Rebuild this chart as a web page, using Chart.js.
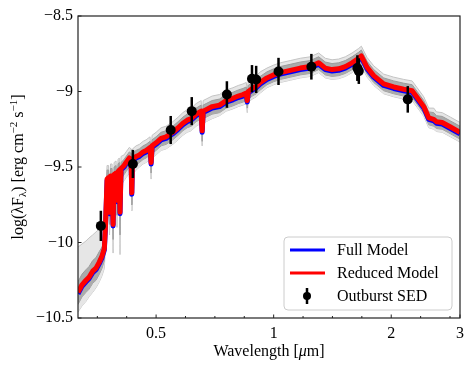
<!DOCTYPE html>
<html>
<head>
<meta charset="utf-8">
<script src="https://cdn.jsdelivr.net/npm/chart.js@4"></script>
<style>
  body { margin: 0; background: #fff; }
  canvas { display: block; }
</style>
</head>
<body>
<canvas id="sed-chart" width="474" height="370"></canvas>
<script>
// Model spectrum, wavelength in micron, log(lambda F_lambda)
const modelWave = [
  0.3155, 0.323, 0.3307, 0.3366, 0.344, 0.3508, 0.3577, 0.3635, 0.3685, 0.3711,
  0.3745, 0.3778, 0.380, 0.3822, 0.3857, 0.388, 0.3903, 0.3949, 0.3972, 0.3995,
  0.4025, 0.4042, 0.4066, 0.414, 0.4189, 0.427, 0.4314, 0.4332, 0.4352, 0.4443,
  0.4531, 0.4631, 0.4714, 0.4826, 0.4855, 0.4883, 0.5, 0.515, 0.5304, 0.5518,
  0.5693, 0.5855, 0.6005, 0.6148, 0.6332, 0.6522, 0.656, 0.6599, 0.6717, 0.6959,
  0.7267, 0.756, 0.7865, 0.8116, 0.8344, 0.8508, 0.8558, 0.861, 0.8816, 0.9025,
  0.924, 0.9612, 1.0, 1.0398, 1.1032, 1.1699, 1.2415, 1.3038, 1.3561, 1.4109,
  1.4668, 1.526, 1.5876, 1.6506, 1.6771, 1.7348, 1.8037, 1.9133, 2.0299, 2.1531,
  2.2623, 2.3305, 2.423, 2.4955, 2.5702, 2.6114, 2.7012, 2.8365, 3.0
];
const reducedModel = [
  -10.33, -10.28, -10.25, -10.23, -10.19, -10.17, -10.13, -10.09, -10.04, -9.88,
  -9.58, -9.57, -9.80, -9.56, -9.56, -9.88, -9.55, -9.54, -9.72, -9.53,
  -9.52, -9.80, -9.51, -9.49, -9.47, -9.44, -9.45, -9.67, -9.45, -9.43,
  -9.42, -9.40, -9.39, -9.37, -9.47, -9.36, -9.34, -9.31, -9.30, -9.27,
  -9.24, -9.21, -9.19, -9.18, -9.15, -9.13, -9.26, -9.13, -9.12, -9.10,
  -9.09, -9.06, -9.045, -9.03, -9.02, -9.01, -9.06, -9.00, -8.98, -8.965,
  -8.94, -8.91, -8.89, -8.875, -8.86, -8.845, -8.835, -8.81, -8.845, -8.855,
  -8.85, -8.835, -8.81, -8.78, -8.765, -8.84, -8.895, -8.95, -8.97, -8.985,
  -8.995, -9.04, -9.10, -9.175, -9.185, -9.20, -9.205, -9.235, -9.27
];
const fullModel = [
  -10.34, -10.29, -10.26, -10.24, -10.20, -10.18, -10.14, -10.10, -10.05, -9.89,
  -9.59, -9.58, -9.81, -9.57, -9.57, -9.89, -9.56, -9.55, -9.73, -9.54,
  -9.53, -9.81, -9.52, -9.50, -9.48, -9.45, -9.46, -9.68, -9.46, -9.44,
  -9.43, -9.41, -9.40, -9.38, -9.48, -9.37, -9.35, -9.32, -9.31, -9.28,
  -9.25, -9.22, -9.20, -9.19, -9.16, -9.14, -9.27, -9.14, -9.13, -9.11,
  -9.10, -9.07, -9.055, -9.04, -9.03, -9.02, -9.07, -9.01, -8.99, -8.975,
  -8.95, -8.92, -8.90, -8.885, -8.87, -8.855, -8.845, -8.82, -8.855, -8.865,
  -8.86, -8.845, -8.82, -8.79, -8.775, -8.85, -8.905, -8.96, -8.98, -8.995,
  -9.005, -9.05, -9.11, -9.185, -9.195, -9.21, -9.215, -9.245, -9.28
];

// Uncertainty envelopes (outer = light grey, inner = dark grey)
const bandOuterHi = [
  -10.03, -10.01, -9.99, -9.97, -9.95, -9.93, -9.91, -9.89, -9.87, -9.70,
  -9.49, -9.49, -9.72, -9.48, -9.48, -9.80, -9.47, -9.46, -9.65, -9.45,
  -9.44, -9.74, -9.43, -9.42, -9.40, -9.37, -9.38, -9.60, -9.38, -9.36,
  -9.35, -9.33, -9.32, -9.30, -9.40, -9.29, -9.27, -9.24, -9.23, -9.20,
  -9.17, -9.14, -9.12, -9.11, -9.08, -9.06, -9.19, -9.06, -9.05, -9.03,
  -9.02, -8.99, -8.975, -8.96, -8.95, -8.94, -8.99, -8.93, -8.91, -8.895,
  -8.87, -8.845, -8.825, -8.81, -8.795, -8.78, -8.77, -8.745, -8.78, -8.79,
  -8.785, -8.77, -8.745, -8.715, -8.70, -8.775, -8.83, -8.885, -8.905, -8.92,
  -8.93, -8.975, -9.035, -9.11, -9.11, -9.135, -9.14, -9.17, -9.205
];
const bandInnerHi = [
  -10.26, -10.21, -10.18, -10.16, -10.12, -10.10, -10.06, -10.03, -9.98, -9.80,
  -9.52, -9.52, -9.75, -9.51, -9.51, -9.83, -9.50, -9.49, -9.68, -9.48,
  -9.47, -9.77, -9.47, -9.45, -9.43, -9.40, -9.41, -9.63, -9.41, -9.39,
  -9.38, -9.36, -9.35, -9.33, -9.43, -9.32, -9.30, -9.27, -9.26, -9.23,
  -9.20, -9.17, -9.15, -9.14, -9.11, -9.09, -9.22, -9.09, -9.08, -9.06,
  -9.05, -9.02, -9.005, -8.99, -8.98, -8.97, -9.02, -8.96, -8.94, -8.925,
  -8.90, -8.87, -8.85, -8.835, -8.82, -8.805, -8.795, -8.77, -8.805, -8.815,
  -8.81, -8.795, -8.77, -8.74, -8.725, -8.80, -8.855, -8.91, -8.93, -8.945,
  -8.955, -9.00, -9.06, -9.135, -9.14, -9.16, -9.165, -9.195, -9.23
];
const bandInnerLo = [
  -10.41, -10.36, -10.33, -10.31, -10.27, -10.25, -10.21, -10.17, -10.12, -9.96,
  -9.66, -9.64, -9.88, -9.63, -9.63, -9.98, -9.62, -9.61, -9.82, -9.60,
  -9.59, -9.95, -9.58, -9.55, -9.53, -9.50, -9.51, -9.75, -9.51, -9.49,
  -9.47, -9.45, -9.44, -9.42, -9.54, -9.41, -9.39, -9.36, -9.35, -9.32,
  -9.29, -9.26, -9.24, -9.23, -9.20, -9.18, -9.33, -9.18, -9.17, -9.15,
  -9.14, -9.11, -9.095, -9.08, -9.07, -9.06, -9.11, -9.05, -9.03, -9.015,
  -8.99, -8.955, -8.935, -8.92, -8.905, -8.89, -8.88, -8.855, -8.89, -8.90,
  -8.895, -8.88, -8.855, -8.825, -8.81, -8.885, -8.94, -8.995, -9.015, -9.03,
  -9.04, -9.085, -9.145, -9.22, -9.23, -9.245, -9.25, -9.28, -9.315
];
const bandOuterLo = [
  -10.46, -10.42, -10.39, -10.36, -10.33, -10.30, -10.26, -10.22, -10.17, -10.02,
  -9.72, -9.70, -9.95, -9.68, -9.68, -10.07, -9.67, -9.66, -9.90, -9.65,
  -9.64, -10.08, -9.62, -9.59, -9.57, -9.54, -9.55, -9.79, -9.55, -9.52,
  -9.50, -9.48, -9.47, -9.45, -9.58, -9.44, -9.42, -9.39, -9.38, -9.35,
  -9.32, -9.29, -9.27, -9.26, -9.23, -9.21, -9.36, -9.21, -9.20, -9.18,
  -9.16, -9.13, -9.115, -9.10, -9.09, -9.08, -9.14, -9.07, -9.05, -9.035,
  -9.01, -8.975, -8.955, -8.94, -8.925, -8.91, -8.90, -8.875, -8.91, -8.92,
  -8.915, -8.90, -8.875, -8.845, -8.83, -8.905, -8.96, -9.015, -9.035, -9.05,
  -9.06, -9.105, -9.165, -9.24, -9.25, -9.265, -9.27, -9.30, -9.335
];

// Outburst photometry
const sedWave = [0.361, 0.436, 0.545, 0.617, 0.759, 0.880, 0.902, 1.029, 1.249, 1.638, 1.652, 2.205];
const sedFlux = [-9.89, -9.48, -9.255, -9.13, -9.02, -8.915, -8.92, -8.867, -8.836, -8.845, -8.865, -9.052];
const sedErr = [0.10, 0.093, 0.093, 0.093, 0.088, 0.09, 0.09, 0.09, 0.085, 0.085, 0.085, 0.088];

// Axis ticks
const xMajorTicks = [0.5, 1, 2, 3];
const xMinorTicks = [0.3536, 0.4204, 0.5946, 0.7071, 0.8409, 1.1892, 1.4142, 1.6818, 2.3784, 2.8284];
const yTicks = [-10.5, -10, -9.5, -9, -8.5];
const xMin = 0.3155;
const xMax = 3.0;

const FONT = "'Liberation Serif', 'Times New Roman', serif";

function xy(xs, ys) {
  return xs.map((v, i) => ({ x: v, y: ys[i] }));
}

function fmt(v) {
  const r = Math.round(v * 10) / 10;
  return String(r).replace('-', '\u2212');
}

// Error bars on the photometry
const errorBars = {
  id: 'errorBars',
  afterDatasetsDraw(chart) {
    const { ctx, scales: { x, y } } = chart;
    ctx.save();
    ctx.strokeStyle = '#000';
    ctx.lineWidth = 2.5;
    sedWave.forEach((w, i) => {
      const px = x.getPixelForValue(w);
      ctx.beginPath();
      ctx.moveTo(px, y.getPixelForValue(sedFlux[i] - sedErr[i]));
      ctx.lineTo(px, y.getPixelForValue(sedFlux[i] + sedErr[i]));
      ctx.stroke();
    });
    ctx.restore();
  }
};

// Frame, inward ticks, axis titles and the legend box
const decorations = {
  id: 'decorations',
  afterDraw(chart) {
    const { ctx, chartArea: a, scales: { x, y } } = chart;
    ctx.save();

    // frame
    ctx.strokeStyle = '#222';
    ctx.lineWidth = 1.2;
    ctx.strokeRect(a.left, a.top, a.right - a.left, a.bottom - a.top);

    // ticks pointing in
    ctx.lineWidth = 1;
    ctx.beginPath();
    yTicks.forEach(v => {
      const py = y.getPixelForValue(v);
      ctx.moveTo(a.left, py);
      ctx.lineTo(a.left + 3.5, py);
    });
    xMajorTicks.forEach(v => {
      const px = x.getPixelForValue(v);
      ctx.moveTo(px, a.bottom);
      ctx.lineTo(px, a.bottom - 3.5);
    });
    xMinorTicks.forEach(v => {
      const px = x.getPixelForValue(v);
      ctx.moveTo(px, a.bottom);
      ctx.lineTo(px, a.bottom - 2);
    });
    ctx.stroke();

    // x title
    ctx.fillStyle = '#000';
    ctx.textBaseline = 'middle';
    const cx = (a.left + a.right) / 2;
    const parts = [
      { t: 'Wavelength [', f: '16px ' + FONT },
      { t: '\u03BC', f: 'italic 16px ' + FONT },
      { t: 'm]', f: '16px ' + FONT }
    ];
    let total = 0;
    parts.forEach(p => { ctx.font = p.f; p.w = ctx.measureText(p.t).width; total += p.w; });
    let sx = cx - total / 2;
    parts.forEach(p => { ctx.font = p.f; ctx.fillText(p.t, sx, 352); sx += p.w; });

    // y title with sub/superscripts
    ctx.save();
    ctx.translate(18, (a.top + a.bottom) / 2);
    ctx.rotate(-Math.PI / 2);
    ctx.textBaseline = 'alphabetic';
    const yparts = [
      { t: 'log(\u03BBF', s: 16, dy: 0 },
      { t: '\u03BB', s: 11, dy: 3 },
      { t: ') [erg cm', s: 16, dy: 0 },
      { t: '\u22122', s: 11, dy: -6 },
      { t: ' s', s: 16, dy: 0 },
      { t: '\u22121', s: 11, dy: -6 },
      { t: ']', s: 16, dy: 0 }
    ];
    total = 0;
    yparts.forEach(p => { ctx.font = p.s + 'px ' + FONT; p.w = ctx.measureText(p.t).width; total += p.w; });
    sx = -total / 2;
    yparts.forEach(p => { ctx.font = p.s + 'px ' + FONT; ctx.fillText(p.t, sx, 5 + p.dy); sx += p.w; });
    ctx.restore();

    // legend
    const bw = 168, bh = 73;
    const bx = a.right - 8 - bw, by = a.bottom - 8 - bh;
    ctx.fillStyle = 'rgba(255,255,255,0.85)';
    ctx.strokeStyle = '#cccccc';
    ctx.lineWidth = 1;
    ctx.beginPath();
    ctx.roundRect(bx, by, bw, bh, 4);
    ctx.fill();
    ctx.stroke();

    const entries = [
      { label: 'Full Model', color: '#0000ff' },
      { label: 'Reduced Model', color: '#ff0000' },
      { label: 'Outburst SED', color: '#000' }
    ];
    ctx.font = '16px ' + FONT;
    ctx.textBaseline = 'middle';
    entries.forEach((e, i) => {
      const ly = by + 13 + i * 23;
      if (i < 2) {
        ctx.strokeStyle = e.color;
        ctx.lineWidth = 3;
        ctx.beginPath();
        ctx.moveTo(bx + 6, ly);
        ctx.lineTo(bx + 41, ly);
        ctx.stroke();
      } else {
        const mx = bx + 23;
        ctx.strokeStyle = '#000';
        ctx.lineWidth = 2.5;
        ctx.beginPath();
        ctx.moveTo(mx, ly - 8);
        ctx.lineTo(mx, ly + 8);
        ctx.stroke();
        ctx.fillStyle = '#000';
        ctx.beginPath();
        ctx.arc(mx, ly, 4, 0, Math.PI * 2);
        ctx.fill();
      }
      ctx.fillStyle = '#000';
      ctx.fillText(e.label, bx + 53, ly + 1);
    });

    ctx.restore();
  }
};

Chart.defaults.font.family = FONT;
Chart.defaults.font.size = 16;
Chart.defaults.color = '#000';

const ctx = document.getElementById('sed-chart').getContext('2d');
const sedChart = new Chart(ctx, {
  type: 'line',
  data: {
    datasets: [
      {
        label: 'Outburst SED',
        data: xy(sedWave, sedFlux),
        showLine: false,
        pointRadius: 5,
        pointBackgroundColor: '#000',
        pointBorderWidth: 0
      },
      {
        label: 'Reduced Model',
        data: xy(modelWave, reducedModel),
        borderColor: '#ff0000',
        borderWidth: 5,
        borderJoinStyle: 'round',
        pointRadius: 0,
        fill: false
      },
      {
        label: 'Full Model',
        data: xy(modelWave, fullModel),
        borderColor: '#0000ff',
        borderWidth: 5,
        borderJoinStyle: 'round',
        pointRadius: 0,
        fill: false
      },
      {
        label: 'inner hi',
        data: xy(modelWave, bandInnerHi),
        borderColor: '#9c9c9c',
        backgroundColor: '#ababab',
        borderWidth: 1,
        pointRadius: 0,
        fill: '+1'
      },
      {
        label: 'inner lo',
        data: xy(modelWave, bandInnerLo),
        borderColor: '#9c9c9c',
        borderWidth: 1,
        pointRadius: 0,
        fill: false
      },
      {
        label: 'outer hi',
        data: xy(modelWave, bandOuterHi),
        borderColor: '#c4c4c4',
        backgroundColor: '#e6e6e6',
        borderWidth: 1,
        pointRadius: 0,
        fill: '+1'
      },
      {
        label: 'outer lo',
        data: xy(modelWave, bandOuterLo),
        borderColor: '#c4c4c4',
        borderWidth: 1,
        pointRadius: 0,
        fill: false
      }
    ]
  },
  options: {
    responsive: false,
    animation: false,
    devicePixelRatio: 1,
    layout: { padding: { top: 16, right: 14, left: 0, bottom: 0 } },
    plugins: {
      legend: { display: false },
      tooltip: { enabled: false }
    },
    scales: {
      x: {
        type: 'logarithmic',
        bounds: 'data',
        min: xMin,
        max: xMax,
        grid: { display: false, drawTicks: false },
        border: { display: false },
        afterBuildTicks: scale => {
          scale.min = xMin;
          scale.max = xMax;
          scale.ticks = xMajorTicks.concat(xMinorTicks).sort((p, q) => p - q).map(v => ({ value: v }));
        },
        afterFit: scale => { scale.height = 52; },
        ticks: {
          autoSkip: false,
          maxRotation: 0,
          padding: 6,
          callback: v => (xMajorTicks.includes(v) ? String(v) : '')
        }
      },
      y: {
        min: -10.5,
        max: -8.5,
        grid: { display: false, drawTicks: false },
        border: { display: false },
        afterFit: scale => { scale.width = 78; },
        ticks: {
          stepSize: 0.5,
          padding: 5,
          callback: v => fmt(v)
        }
      }
    }
  },
  plugins: [errorBars, decorations]
});
</script>
</body>
</html>
